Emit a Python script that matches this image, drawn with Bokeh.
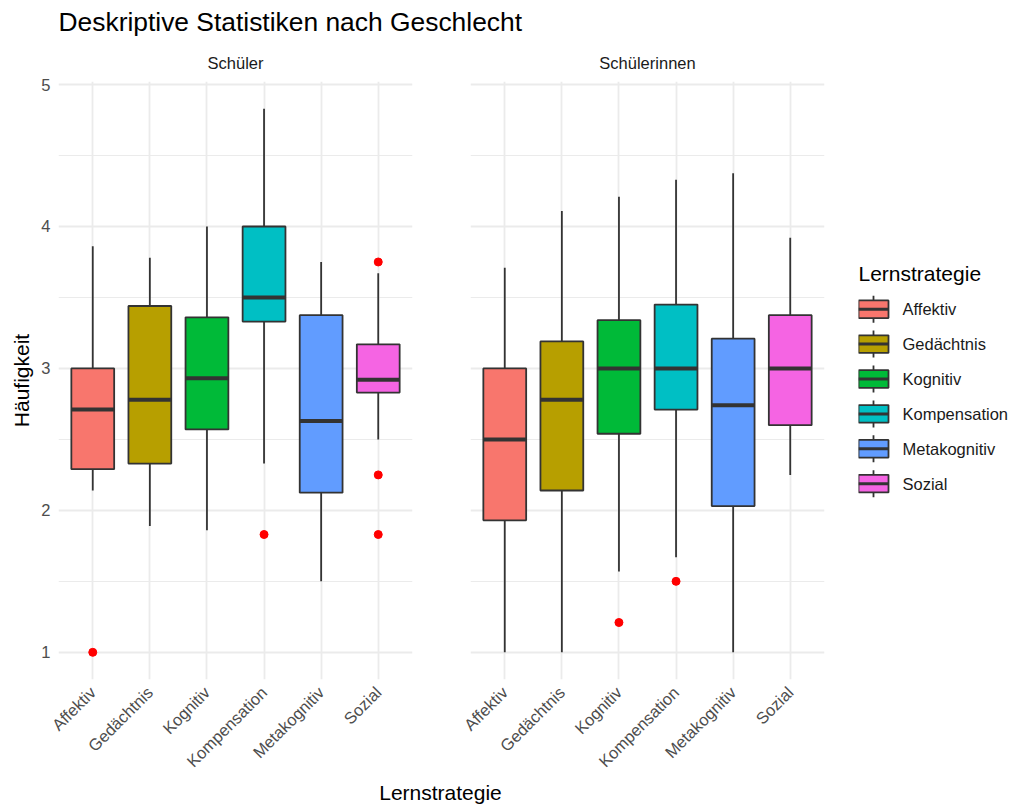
import math
from bokeh.plotting import figure
from bokeh.models import ColumnDataSource, FactorRange, Range1d, FixedTicker, Label
from bokeh.layouts import row, column
from bokeh.embed import file_html
from bokeh.resources import INLINE
from bokeh.core.properties import value

# ---------------- data ----------------
categories = ["Affektiv", "Gedächtnis", "Kognitiv", "Kompensation", "Metakognitiv", "Sozial"]
colors = ["#F8766D", "#B79F00", "#00BA38", "#00BFC4", "#619CFF", "#F564E3"]
panel_names = ["Schüler", "Schülerinnen"]

# Schüler
m_lower = [2.14, 1.89, 1.86, 2.33, 1.50, 2.50]
m_q1 = [2.29, 2.33, 2.57, 3.33, 2.125, 2.83]
m_median = [2.71, 2.78, 2.93, 3.50, 2.63, 2.92]
m_q3 = [3.00, 3.44, 3.36, 4.00, 3.375, 3.17]
m_upper = [3.86, 3.78, 4.00, 4.83, 3.75, 3.67]
m_out_cat = ["Affektiv", "Kompensation", "Sozial", "Sozial", "Sozial"]
m_out_val = [1.00, 1.83, 3.75, 2.25, 1.83]

# Schülerinnen
f_lower = [1.00, 1.00, 1.57, 1.67, 1.00, 2.25]
f_q1 = [1.93, 2.14, 2.54, 2.71, 2.03, 2.60]
f_median = [2.50, 2.78, 3.00, 3.00, 2.74, 3.00]
f_q3 = [3.00, 3.19, 3.34, 3.45, 3.21, 3.375]
f_upper = [3.71, 4.11, 4.21, 4.33, 4.375, 3.92]
f_out_cat = ["Kognitiv", "Kompensation"]
f_out_val = [1.21, 1.50]

y_ticks = [1, 2, 3, 4, 5]
y_minor = [1.5, 2.5, 3.5, 4.5]

title_text = "Deskriptive Statistiken nach Geschlecht"
x_title = "Lernstrategie"
y_title = "Häufigkeit"
legend_title = "Lernstrategie"

FONT = "Liberation Sans"
GRID = "#EBEBEB"
EDGE = "#333333"

all_vals = m_lower + m_upper + m_out_val + f_lower + f_upper + f_out_val
lo, hi = min(all_vals), max(all_vals)
pad = 0.05 * (hi - lo)
ymin, ymax = lo - pad, hi + pad

TOP, FRAME_H, BOTTOM = 41, 600, 98
ROW_H = TOP + FRAME_H + BOTTOM
FRAME_W = 354


def make_panel(name, lower, q1, med, q3, upper, oc, ov, show_y):
    bl = 58 if show_y else 29
    br = 29 if show_y else 20
    p = figure(
        x_range=FactorRange(factors=categories, range_padding=0.1, range_padding_units="absolute"),
        y_range=Range1d(ymin, ymax),
        width=bl + FRAME_W + br, height=ROW_H,
        output_backend="svg", toolbar_location=None,
        y_axis_location="left" if show_y else None,
        min_border_top=TOP, min_border_bottom=BOTTOM,
        min_border_left=bl, min_border_right=br,
        title=name,
    )
    p.outline_line_color = None
    p.background_fill_color = "white"
    p.title.align = "center"
    p.title.text_font = FONT
    p.title.text_font_size = "16.5px"
    p.title.text_font_style = "normal"
    p.title.text_color = "#1A1A1A"
    p.title.standoff = 20

    src = ColumnDataSource(dict(cat=categories, lower=lower, q1=q1, med=med,
                                q3=q3, upper=upper, color=colors))
    p.segment(x0="cat", y0="q3", x1="cat", y1="upper", source=src,
              line_color=EDGE, line_width=1.8)
    p.segment(x0="cat", y0="q1", x1="cat", y1="lower", source=src,
              line_color=EDGE, line_width=1.8)
    p.vbar(x="cat", bottom="q1", top="q3", width=0.75, source=src,
           fill_color="color", line_color=EDGE, line_width=1.8)
    p.rect(x="cat", y="med", width=0.75, height=4, height_units="screen",
           source=src, fill_color=EDGE, line_color=None)
    p.scatter(x=oc, y=ov, size=8, marker="circle", fill_color="#FF0000",
              line_color="#FF0000")

    p.xgrid.grid_line_color = GRID
    p.xgrid.grid_line_width = 1.8
    p.ygrid.ticker = FixedTicker(ticks=y_ticks, minor_ticks=y_minor)
    p.ygrid.grid_line_color = GRID
    p.ygrid.grid_line_width = 1.8
    p.ygrid.minor_grid_line_color = GRID
    p.ygrid.minor_grid_line_width = 1.0

    p.xaxis.major_label_orientation = math.pi / 4
    p.xaxis.major_label_text_font = FONT
    p.xaxis.major_label_text_font_size = "16.5px"
    p.xaxis.major_label_text_color = "#4D4D4D"
    p.xaxis.major_label_standoff = 4
    p.xaxis.axis_line_color = None
    p.xaxis.major_tick_line_color = None
    p.xaxis.minor_tick_line_color = None

    if show_y:
        p.yaxis.ticker = FixedTicker(ticks=y_ticks, minor_ticks=y_minor)
        p.yaxis.axis_label = y_title
        p.yaxis.axis_label_text_font = FONT
        p.yaxis.axis_label_text_font_size = "21px"
        p.yaxis.axis_label_text_font_style = "normal"
        p.yaxis.axis_label_text_color = "black"
        p.yaxis.axis_label_standoff = 5
        p.yaxis.major_label_text_font = FONT
        p.yaxis.major_label_text_font_size = "16.5px"
        p.yaxis.major_label_text_color = "#4D4D4D"
        p.yaxis.major_label_standoff = 2
        p.yaxis.axis_line_color = None
        p.yaxis.major_tick_line_color = None
        p.yaxis.minor_tick_line_color = None
    return p


left = make_panel(panel_names[0], m_lower, m_q1, m_median, m_q3, m_upper,
                  m_out_cat, m_out_val, True)
right = make_panel(panel_names[1], f_lower, f_q1, f_median, f_q3, f_upper,
                   f_out_cat, f_out_val, False)

# ---------------- legend ----------------
# y in pixels below the panel frame top (flipped range)
leg = figure(
    x_range=Range1d(0, 150), y_range=Range1d(FRAME_H, 0),
    width=14 + 150, height=ROW_H,
    min_border_top=TOP, min_border_left=14, min_border_right=0, min_border_bottom=BOTTOM,
    x_axis_location=None, y_axis_location=None,
    output_backend="svg", toolbar_location=None,
)
leg.outline_line_color = None
leg.grid.visible = False

key_y = [228.5 + 35 * i for i in range(len(categories))]
lsrc = ColumnDataSource(dict(cat=categories, color=colors, ky=key_y))
leg.rect(x=15, y="ky", width=1.8, height=27, width_units="screen", height_units="screen",
         source=lsrc, fill_color=EDGE, line_color=None)
leg.rect(x=15, y="ky", width=30, height=17.6, height_units="screen",
         source=lsrc, fill_color="color", line_color=EDGE, line_width=1.8)
leg.rect(x=15, y="ky", width=30, height=3, height_units="screen",
         source=lsrc, fill_color=EDGE, line_color=None)
leg.text(x=44, y="ky", text="cat", source=lsrc, text_baseline="middle",
         text_font=value(FONT), text_font_size="16.5px", text_color="#1A1A1A")
leg.add_layout(Label(x=0, y=193, text=legend_title, text_font=FONT, text_font_size="21px",
                     text_color="black", text_baseline="alphabetic"))

# ---------------- title & x label ----------------
def blank(w, h):
    f = figure(width=w, height=h, x_range=Range1d(0, w), y_range=Range1d(0, h),
               x_axis_location=None, y_axis_location=None, min_border=0,
               min_border_left=0, min_border_right=0, min_border_top=0, min_border_bottom=0,
               output_backend="svg", toolbar_location=None)
    f.outline_line_color = None
    f.grid.visible = False
    return f

tf = blank(1000, 40)
tf.add_layout(Label(x=58, y=19, text=title_text, text_font=FONT, text_font_size="26.4px",
                    text_color="black", text_baseline="alphabetic"))

xf = blank(1000, 31)
xf.add_layout(Label(x=440, y=18, text=x_title, text_font=FONT, text_font_size="21px",
                    text_color="black", text_align="center", text_baseline="alphabetic"))

layout = column(tf, row(left, right, leg), xf)

with open("out.html", "w") as fh:
    fh.write(file_html(layout, INLINE))
